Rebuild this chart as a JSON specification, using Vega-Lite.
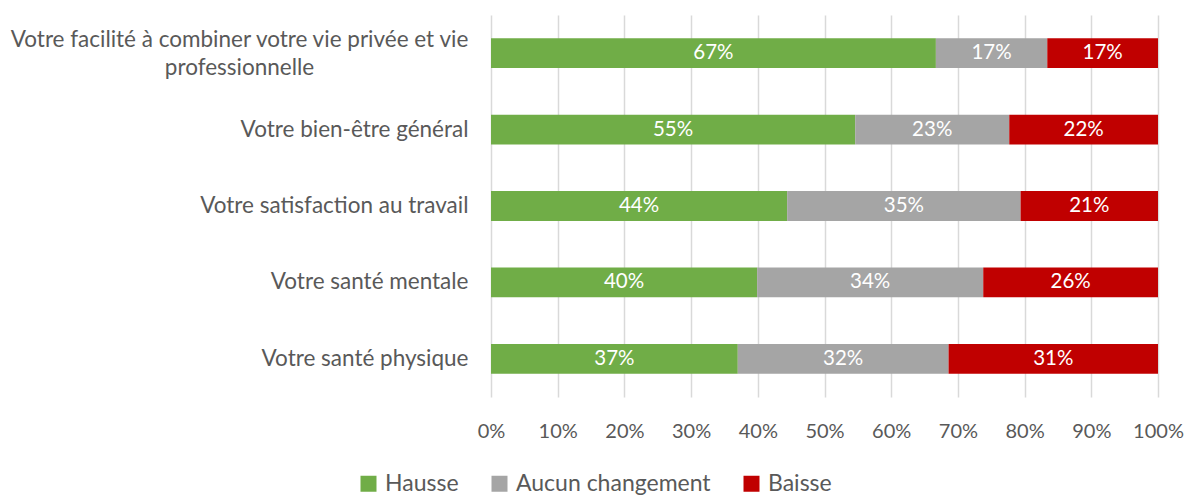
{
  "$schema": "https://vega.github.io/schema/vega-lite/v6.json",
  "width": 667,
  "height": 382,
  "autosize": "none",
  "padding": {"left": 491, "top": 15, "right": 36, "bottom": 98},
  "background": "white",
  "config": {"view": {"stroke": null}, "font": "Lato"},
  "data": {
    "values": [
      {"item": "Votre facilité à combiner votre vie privée et vie professionnelle", "cat": "Hausse", "ord": 1, "value": 66.7, "label": "67%"},
      {"item": "Votre facilité à combiner votre vie privée et vie professionnelle", "cat": "Aucun changement", "ord": 2, "value": 16.7, "label": "17%"},
      {"item": "Votre facilité à combiner votre vie privée et vie professionnelle", "cat": "Baisse", "ord": 3, "value": 16.6, "label": "17%"},
      {"item": "Votre bien-être général", "cat": "Hausse", "ord": 1, "value": 54.6, "label": "55%"},
      {"item": "Votre bien-être général", "cat": "Aucun changement", "ord": 2, "value": 23.1, "label": "23%"},
      {"item": "Votre bien-être général", "cat": "Baisse", "ord": 3, "value": 22.3, "label": "22%"},
      {"item": "Votre satisfaction au travail", "cat": "Hausse", "ord": 1, "value": 44.4, "label": "44%"},
      {"item": "Votre satisfaction au travail", "cat": "Aucun changement", "ord": 2, "value": 35.0, "label": "35%"},
      {"item": "Votre satisfaction au travail", "cat": "Baisse", "ord": 3, "value": 20.6, "label": "21%"},
      {"item": "Votre santé mentale", "cat": "Hausse", "ord": 1, "value": 39.9, "label": "40%"},
      {"item": "Votre santé mentale", "cat": "Aucun changement", "ord": 2, "value": 33.9, "label": "34%"},
      {"item": "Votre santé mentale", "cat": "Baisse", "ord": 3, "value": 26.2, "label": "26%"},
      {"item": "Votre santé physique", "cat": "Hausse", "ord": 1, "value": 37.0, "label": "37%"},
      {"item": "Votre santé physique", "cat": "Aucun changement", "ord": 2, "value": 31.6, "label": "32%"},
      {"item": "Votre santé physique", "cat": "Baisse", "ord": 3, "value": 31.4, "label": "31%"}
    ]
  },
  "encoding": {
    "y": {
      "field": "item",
      "type": "nominal",
      "sort": null,
      "scale": {"paddingInner": 0.61, "paddingOuter": 0.305},
      "axis": {
        "title": null,
        "domain": false,
        "ticks": false,
        "tickSize": 0,
        "grid": false,
        "labelFont": "Lato",
        "labelFontSize": 22.5,
        "labelColor": "#595959",
        "labelLimit": 700,
        "labelLineHeight": 28,
        "labelExpr": "indexof(datum.value, 'facilité') >= 0 ? ['Votre facilité à combiner votre vie privée et vie', 'professionnelle'] : datum.label",
        "labelAlign": {"condition": {"test": "indexof(datum.value, 'facilité') >= 0", "value": "center"}, "value": "right"},
        "labelPadding": {"condition": {"test": "indexof(datum.value, 'facilité') >= 0", "value": 252}, "value": 23},
        "labelOffset": {"condition": {"test": "indexof(datum.value, 'facilité') >= 0", "value": -13}, "value": 0}
      }
    },
    "x": {
      "field": "value",
      "type": "quantitative",
      "stack": "zero",
      "scale": {"domain": [0, 100], "nice": false},
      "axis": {
        "title": null,
        "values": [0, 10, 20, 30, 40, 50, 60, 70, 80, 90, 100],
        "labelExpr": "datum.value + '%'",
        "labelOverlap": false,
        "labelFlush": false,
        "labelBound": false,
        "domain": false,
        "ticks": false,
        "tickSize": 0,
        "grid": true,
        "gridColor": "#d9d9d9",
        "gridWidth": 1.5,
        "labelFont": "Lato",
        "labelFontSize": 20,
        "labelColor": "#595959",
        "labelPadding": 24
      }
    },
    "order": {"field": "ord", "type": "quantitative"}
  },
  "layer": [
    {
      "mark": {"type": "bar"},
      "encoding": {
        "color": {
          "field": "cat",
          "type": "nominal",
          "sort": ["Hausse", "Aucun changement", "Baisse"],
          "scale": {"domain": ["Hausse", "Aucun changement", "Baisse"], "range": ["#70ad47", "#a5a5a5", "#c00000"]},
          "legend": {
            "title": null,
            "orient": "none",
            "direction": "horizontal",
            "legendX": -134,
            "legendY": 457,
            "symbolType": "square",
            "symbolSize": 256,
            "symbolStrokeWidth": 0,
            "labelFont": "Lato",
            "labelFontSize": 23,
            "labelLimit": 400,
            "labelColor": "#595959",
            "labelOffset": 5,
            "columnPadding": 29
          }
        }
      }
    },
    {
      "mark": {"type": "text", "color": "white", "fontSize": 20.5, "font": "Lato", "align": "center", "baseline": "middle"},
      "encoding": {
        "x": {"field": "value", "type": "quantitative", "stack": "zero", "bandPosition": 0.5},
        "text": {"field": "label"}
      }
    }
  ]
}
